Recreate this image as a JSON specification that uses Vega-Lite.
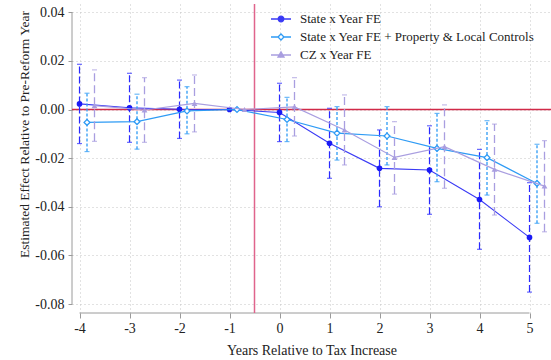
{
  "$schema": "https://vega.github.io/schema/vega-lite/v6.json",
  "width": 479,
  "height": 309,
  "autosize": {"type": "none"},
  "padding": {"left": 72, "top": 4, "right": 0, "bottom": 47},
  "background": "white",
  "config": {
    "view": {"stroke": null},
    "font": "Liberation Serif",
    "axis": {
      "domain": false,
      "grid": true,
      "gridDash": [1, 3],
      "gridColor": "#c4c4c4",
      "gridWidth": 1,
      "tickColor": "#9a9a9a",
      "labelFont": "Liberation Serif",
      "labelFontSize": 14,
      "labelColor": "#222222",
      "titleFont": "Liberation Serif",
      "titleFontSize": 14,
      "titleFontWeight": "normal",
      "titleColor": "#222222"
    }
  },
  "datasets": {
    "estimates": [
      {"series": "State x Year FE", "k": -4, "est": 0.0023, "hi": 0.0186, "lo": -0.014},
      {"series": "State x Year FE", "k": -3, "est": 0.0007, "hi": 0.0149, "lo": -0.0135},
      {"series": "State x Year FE", "k": -2, "est": 0.0001, "hi": 0.0121, "lo": -0.0119},
      {"series": "State x Year FE", "k": -1, "est": 0, "hi": null, "lo": null},
      {"series": "State x Year FE", "k": 0, "est": -0.0012, "hi": 0.0108, "lo": -0.0132},
      {"series": "State x Year FE", "k": 1, "est": -0.0139, "hi": 0.0005, "lo": -0.0283},
      {"series": "State x Year FE", "k": 2, "est": -0.0242, "hi": -0.0084, "lo": -0.04},
      {"series": "State x Year FE", "k": 3, "est": -0.0249, "hi": -0.0067, "lo": -0.0431},
      {"series": "State x Year FE", "k": 4, "est": -0.037, "hi": -0.0164, "lo": -0.0575},
      {"series": "State x Year FE", "k": 5, "est": -0.0526, "hi": -0.0301, "lo": -0.0751},
      {"series": "State x Year FE + Property & Local Controls", "k": -4, "est": -0.0053, "hi": 0.0067, "lo": -0.0173},
      {"series": "State x Year FE + Property & Local Controls", "k": -3, "est": -0.005, "hi": 0.0063, "lo": -0.0163},
      {"series": "State x Year FE + Property & Local Controls", "k": -2, "est": -0.0006, "hi": 0.0094, "lo": -0.01},
      {"series": "State x Year FE + Property & Local Controls", "k": -1, "est": 0, "hi": null, "lo": null},
      {"series": "State x Year FE + Property & Local Controls", "k": 0, "est": -0.0041, "hi": 0.005, "lo": -0.0132},
      {"series": "State x Year FE + Property & Local Controls", "k": 1, "est": -0.0097, "hi": 0.0012, "lo": -0.0208},
      {"series": "State x Year FE + Property & Local Controls", "k": 2, "est": -0.0109, "hi": 0.0012, "lo": -0.0228},
      {"series": "State x Year FE + Property & Local Controls", "k": 3, "est": -0.016, "hi": -0.0016, "lo": -0.0297},
      {"series": "State x Year FE + Property & Local Controls", "k": 4, "est": -0.0198, "hi": -0.0046, "lo": -0.0352},
      {"series": "State x Year FE + Property & Local Controls", "k": 5, "est": -0.0304, "hi": -0.0143, "lo": -0.0468},
      {"series": "CZ x Year FE", "k": -4, "est": 0.0016, "hi": 0.0163, "lo": -0.0131},
      {"series": "CZ x Year FE", "k": -3, "est": -0.0002, "hi": 0.0131, "lo": -0.0135},
      {"series": "CZ x Year FE", "k": -2, "est": 0.0025, "hi": 0.0142, "lo": -0.0092},
      {"series": "CZ x Year FE", "k": -1, "est": 0, "hi": null, "lo": null},
      {"series": "CZ x Year FE", "k": 0, "est": 0.0011, "hi": 0.0131, "lo": -0.0109},
      {"series": "CZ x Year FE", "k": 1, "est": -0.0084, "hi": 0.006, "lo": -0.0228},
      {"series": "CZ x Year FE", "k": 2, "est": -0.0197, "hi": -0.005, "lo": -0.0348},
      {"series": "CZ x Year FE", "k": 3, "est": -0.0153, "hi": 0.0019, "lo": -0.0324},
      {"series": "CZ x Year FE", "k": 4, "est": -0.0246, "hi": -0.006, "lo": -0.0434},
      {"series": "CZ x Year FE", "k": 5, "est": -0.0315, "hi": -0.0128, "lo": -0.0503}
    ]
  },
  "layer": [
    {
      "data": {"values": [{}]},
      "mark": {"type": "rule", "stroke": "#9a9a9a", "strokeWidth": 1},
      "encoding": {
        "x": {
          "datum": -4.15,
          "type": "quantitative",
          "scale": {"domain": [-4.15, 5.43], "nice": false, "zero": false},
          "title": "Years Relative to Tax Increase",
          "axis": {
            "values": [-4, -3, -2, -1, 0, 1, 2, 3, 4, 5],
            "labelExpr": "(datum.value < 0 ? '-' : '') + format(abs(datum.value), 'd')",
            "tickSize": 5,
            "labelPadding": 3,
            "titlePadding": 8
          }
        },
        "y": {
          "datum": -0.08,
          "type": "quantitative",
          "scale": {"domain": [-0.0837, 0.0434], "nice": false, "zero": false},
          "title": "Estimated Effect Relative to Pre-Reform Year",
          "axis": {
            "values": [-0.08, -0.06, -0.04, -0.02, 0, 0.02, 0.04],
            "labelExpr": "(datum.value < -0.000001 ? '-' : '') + format(abs(datum.value), '.2f')",
            "tickSize": 4,
            "labelPadding": 4,
            "titleAngle": -90,
            "titleAlign": "center",
            "titleBaseline": "middle",
            "titleFontSize": 13.5,
            "titleX": -48,
            "titleY": 130
          }
        },
        "y2": {"datum": 0.04}
      }
    },
    {
      "data": {"values": [{}]},
      "mark": {"type": "rule", "stroke": "#9a9a9a", "strokeWidth": 1},
      "encoding": {
        "x": {"datum": -4, "type": "quantitative", "title": "Years Relative to Tax Increase"},
        "x2": {"datum": 5},
        "y": {"datum": -0.0837, "type": "quantitative", "title": "Estimated Effect Relative to Pre-Reform Year"}
      }
    },
    {
      "data": {"values": [{}]},
      "mark": {"type": "rule", "color": "#d12a48", "stroke": "#d12a48", "strokeWidth": 1.3},
      "encoding": {
        "y": {"datum": 0, "type": "quantitative", "title": "Estimated Effect Relative to Pre-Reform Year"}
      }
    },
    {
      "data": {"values": [{}]},
      "mark": {"type": "rule", "stroke": "#e0648c", "strokeWidth": 1.5},
      "encoding": {
        "x": {"datum": -0.5, "type": "quantitative", "title": "Years Relative to Tax Increase"}
      }
    },
    {
      "data": {"name": "estimates"},
      "transform": [{"filter": "datum.series === 'State x Year FE'"}],
      "encoding": {
        "x": {"field": "k", "type": "quantitative", "title": "Years Relative to Tax Increase"}
      },
      "layer": [
        {
          "mark": {"type": "rule", "stroke": "#2a2aff", "strokeWidth": 1.2, "strokeDash": [7, 3]},
          "encoding": {"y": {"field": "lo", "type": "quantitative", "title": "Estimated Effect Relative to Pre-Reform Year"}, "y2": {"field": "hi"}}
        },
        {
          "mark": {"type": "tick", "orient": "horizontal", "size": 5, "thickness": 1.2, "color": "#2a2aff"},
          "encoding": {"y": {"field": "hi", "type": "quantitative", "title": "Estimated Effect Relative to Pre-Reform Year"}}
        },
        {
          "mark": {"type": "tick", "orient": "horizontal", "size": 5, "thickness": 1.2, "color": "#2a2aff"},
          "encoding": {"y": {"field": "lo", "type": "quantitative", "title": "Estimated Effect Relative to Pre-Reform Year"}}
        },
        {
          "mark": {"type": "line", "strokeWidth": 1.1},
          "encoding": {
            "y": {"field": "est", "type": "quantitative", "title": "Estimated Effect Relative to Pre-Reform Year"},
            "color": {
              "field": "series",
              "type": "nominal",
              "scale": {"domain": ["State x Year FE", "State x Year FE + Property & Local Controls", "CZ x Year FE"], "range": ["#3a3af5", "#2e9bf5", "#a99ee0"]},
              "legend": {
                "orient": "none",
                "legendX": 198,
                "legendY": 4,
                "title": null,
                "padding": 0,
                "rowPadding": 0,
                "labelOffset": 8,
                "labelFont": "Liberation Serif",
                "labelFontSize": 13,
                "labelColor": "#222222",
                "labelLimit": 400,
                "symbolSize": 400,
                "encode": {
                  "symbols": {
                    "update": {
                      "shape": {"signal": "datum.value === 'State x Year FE' ? 'M-1,0H1M-0.28,0A0.28,0.28 0 1,0 0.28,0A0.28,0.28 0 1,0 -0.28,0Z' : (datum.value === 'CZ x Year FE' ? 'M-1,0H1M-0.3,0.2L0,-0.32L0.3,0.2Z' : 'M-1,0H-0.3M0.3,0H1M-0.3,0L0,-0.3L0.3,0L0,0.3Z')"},
                      "fill": {"signal": "datum.value === 'State x Year FE + Property & Local Controls' ? '#ffffff' : scale('color', datum.value)"},
                      "stroke": {"signal": "scale('color', datum.value)"},
                      "strokeWidth": {"value": 1.3},
                      "strokeDash": {"value": []},
                      "opacity": {"value": 1}
                    }
                  }
                }
              }
            }
          }
        },
        {
          "mark": {"type": "point", "shape": "circle", "size": 32, "filled": true, "color": "#1a1af5", "opacity": 1},
          "encoding": {"y": {"field": "est", "type": "quantitative", "title": "Estimated Effect Relative to Pre-Reform Year"}}
        }
      ]
    },
    {
      "data": {"name": "estimates"},
      "transform": [{"filter": "datum.series === 'State x Year FE + Property & Local Controls'"}],
      "encoding": {
        "x": {"field": "k", "type": "quantitative", "title": "Years Relative to Tax Increase"}
      },
      "layer": [
        {
          "mark": {"type": "rule", "stroke": "#2e9bf5", "strokeWidth": 1.3, "strokeDash": [3, 2], "xOffset": 7.5},
          "encoding": {"y": {"field": "lo", "type": "quantitative", "title": "Estimated Effect Relative to Pre-Reform Year"}, "y2": {"field": "hi"}}
        },
        {
          "mark": {"type": "tick", "orient": "horizontal", "size": 5, "thickness": 1.2, "color": "#2e9bf5", "xOffset": 7.5},
          "encoding": {"y": {"field": "hi", "type": "quantitative", "title": "Estimated Effect Relative to Pre-Reform Year"}}
        },
        {
          "mark": {"type": "tick", "orient": "horizontal", "size": 5, "thickness": 1.2, "color": "#2e9bf5", "xOffset": 7.5},
          "encoding": {"y": {"field": "lo", "type": "quantitative", "title": "Estimated Effect Relative to Pre-Reform Year"}}
        },
        {
          "mark": {"type": "line", "strokeWidth": 1.2, "xOffset": 7.5},
          "encoding": {
            "y": {"field": "est", "type": "quantitative", "title": "Estimated Effect Relative to Pre-Reform Year"},
            "color": {"field": "series", "type": "nominal"}
          }
        },
        {
          "mark": {"type": "point", "shape": "diamond", "size": 34, "filled": false, "fill": "#ffffff", "fillOpacity": 1, "stroke": "#2e9bf5", "strokeWidth": 1.3, "opacity": 1, "xOffset": 7.5},
          "encoding": {"y": {"field": "est", "type": "quantitative", "title": "Estimated Effect Relative to Pre-Reform Year"}}
        }
      ]
    },
    {
      "data": {"name": "estimates"},
      "transform": [{"filter": "datum.series === 'CZ x Year FE'"}],
      "encoding": {
        "x": {"field": "k", "type": "quantitative", "title": "Years Relative to Tax Increase"}
      },
      "layer": [
        {
          "mark": {"type": "rule", "stroke": "#a99ee0", "strokeWidth": 1.3, "strokeDash": [8, 4], "xOffset": 15},
          "encoding": {"y": {"field": "lo", "type": "quantitative", "title": "Estimated Effect Relative to Pre-Reform Year"}, "y2": {"field": "hi"}}
        },
        {
          "mark": {"type": "tick", "orient": "horizontal", "size": 5, "thickness": 1.2, "color": "#a99ee0", "xOffset": 15},
          "encoding": {"y": {"field": "hi", "type": "quantitative", "title": "Estimated Effect Relative to Pre-Reform Year"}}
        },
        {
          "mark": {"type": "tick", "orient": "horizontal", "size": 5, "thickness": 1.2, "color": "#a99ee0", "xOffset": 15},
          "encoding": {"y": {"field": "lo", "type": "quantitative", "title": "Estimated Effect Relative to Pre-Reform Year"}}
        },
        {
          "mark": {"type": "line", "strokeWidth": 1.2, "xOffset": 15},
          "encoding": {
            "y": {"field": "est", "type": "quantitative", "title": "Estimated Effect Relative to Pre-Reform Year"},
            "color": {"field": "series", "type": "nominal"}
          }
        },
        {
          "mark": {"type": "point", "shape": "triangle-up", "size": 34, "filled": true, "color": "#a99ee0", "opacity": 1, "xOffset": 15},
          "encoding": {"y": {"field": "est", "type": "quantitative", "title": "Estimated Effect Relative to Pre-Reform Year"}}
        }
      ]
    }
  ]
}
